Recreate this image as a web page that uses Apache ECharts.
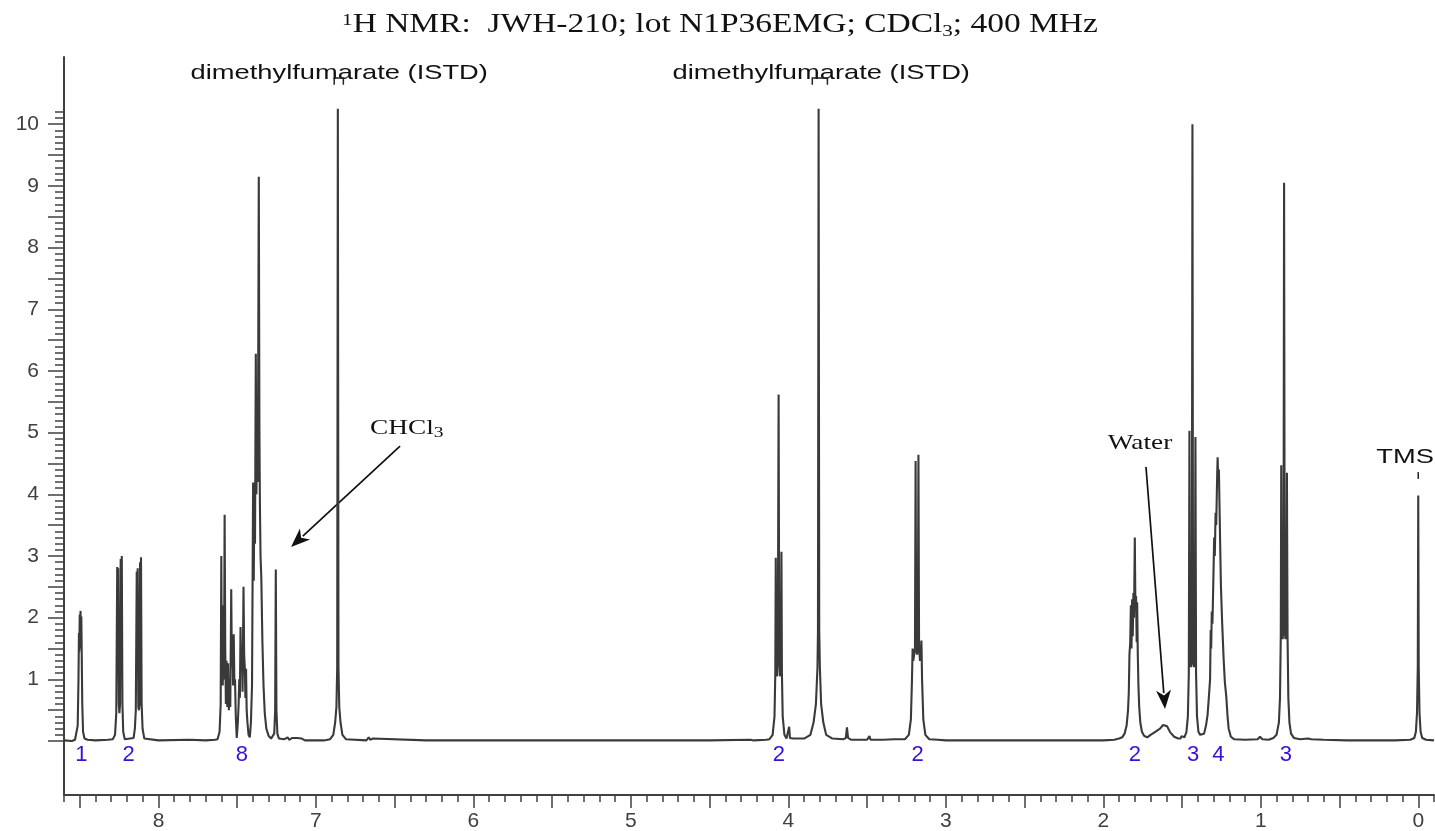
<!DOCTYPE html>
<html>
<head>
<meta charset="utf-8">
<title>1H NMR JWH-210</title>
<script src="https://cdn.jsdelivr.net/npm/echarts@6/dist/echarts.min.js"></script>
<style>
  html, body { margin: 0; padding: 0; background: #fff; }
  #chart { width: 1435px; height: 831px; }
</style>
</head>
<body>
<div id="chart"></div>
<script>
// spectrum: [ppm, intensity], high ppm first
const baseStart = [[8.60, 0.01], [8.55, 0.0], [8.53, 0.02]]
const peak849 = [[8.522, 0.05], [8.513, 0.25], [8.508, 1.0], [8.505, 1.75], [8.503, 1.45], [8.500, 2.05], [8.498, 1.5], [8.495, 2.11], [8.493, 1.5], [8.490, 2.02], [8.487, 1.3], [8.484, 0.6], [8.479, 0.15], [8.470, 0.04], [8.45, 0.02], [8.40, 0.01], [8.32, 0.02], [8.29, 0.03]]
const peak824 = [[8.276, 0.1], [8.268, 0.45], [8.262, 2.82], [8.259, 1.6], [8.256, 2.8], [8.252, 0.6], [8.248, 0.45], [8.244, 0.6], [8.240, 2.95], [8.237, 1.8], [8.233, 3.0], [8.229, 0.6], [8.224, 0.15], [8.214, 0.03]]
const peak812 = [[8.158, 0.05], [8.150, 0.2], [8.144, 0.5], [8.138, 2.75], [8.135, 1.8], [8.132, 2.8], [8.128, 0.55], [8.124, 0.5], [8.120, 0.6], [8.117, 2.9], [8.114, 2.0], [8.111, 2.98], [8.107, 0.6], [8.101, 0.2], [8.090, 0.04], [8.0, 0.01], [7.8, 0.02], [7.7, 0.01], [7.64, 0.02]]
const aromatic = [[7.625, 0.03], [7.612, 0.15], [7.605, 0.6], [7.601, 3.0], [7.598, 1.2], [7.595, 2.2], [7.592, 0.9], [7.588, 1.4], [7.584, 1.0], [7.580, 3.67], [7.576, 1.5], [7.572, 0.6], [7.568, 1.3], [7.563, 0.55], [7.558, 1.26], [7.553, 0.5], [7.548, 1.0], [7.544, 0.55], [7.538, 2.46], [7.534, 1.2], [7.530, 1.6], [7.526, 0.9], [7.522, 1.73], [7.518, 0.92], [7.514, 1.0], [7.509, 0.4], [7.503, 0.05], [7.496, 0.3], [7.491, 0.6], [7.487, 1.0], [7.483, 0.7], [7.479, 1.85], [7.475, 1.2], [7.470, 1.5], [7.466, 0.8], [7.460, 2.5], [7.456, 1.4], [7.452, 1.2], [7.448, 0.7], [7.444, 1.17], [7.440, 0.5], [7.435, 0.3], [7.428, 0.1], [7.420, 0.06], [7.413, 0.3], [7.406, 0.9], [7.399, 4.19], [7.395, 2.6], [7.391, 4.0], [7.387, 3.2], [7.382, 6.28], [7.378, 4.0], [7.373, 5.5], [7.369, 4.2], [7.363, 9.15], [7.359, 5.0], [7.356, 3.88], [7.352, 3.0], [7.347, 2.65], [7.340, 1.6], [7.333, 0.9], [7.325, 0.45], [7.315, 0.2], [7.300, 0.08], [7.285, 0.04]]
const chcl3 = [[7.275, 0.04], [7.265, 0.12], [7.259, 0.5], [7.255, 2.78], [7.251, 0.5], [7.245, 0.12], [7.235, 0.04], [7.20, 0.03], [7.18, 0.06], [7.17, 0.02], [7.15, 0.05], [7.14, 0.02], [7.12, 0.05], [7.11, 0.02], [7.09, 0.04], [7.07, 0.01], [7.00, 0.01], [6.95, 0.01]]
const dmf686 = [[6.91, 0.03], [6.89, 0.1], [6.878, 0.3], [6.870, 0.55], [6.865, 1.2], [6.861, 10.25], [6.857, 1.2], [6.852, 0.55], [6.844, 0.3], [6.832, 0.1], [6.81, 0.03], [6.68, 0.01], [6.665, 0.06], [6.655, 0.02], [6.64, 0.04], [6.63, 0.01], [6.3, 0.01], [5.8, 0.01], [5.5, 0.01], [5.0, 0.01], [4.5, 0.01], [4.24, 0.02], [4.23, 0.05], [4.22, 0.01], [4.14, 0.02]]
const peak406 = [[4.12, 0.03], [4.10, 0.1], [4.088, 0.4], [4.083, 1.1], [4.080, 2.97], [4.076, 1.1], [4.071, 1.05], [4.067, 1.4], [4.062, 5.62], [4.058, 1.4], [4.053, 1.05], [4.048, 1.1], [4.044, 3.07], [4.041, 1.1], [4.036, 0.4], [4.025, 0.1], [4.012, 0.04], [4.000, 0.05], [3.995, 0.23], [3.99, 0.05], [3.97, 0.04]]
const dmf381 = [[3.90, 0.04], [3.86, 0.1], [3.84, 0.3], [3.825, 0.6], [3.815, 1.2], [3.812, 1.8], [3.808, 10.25], [3.804, 1.8], [3.800, 1.2], [3.792, 0.6], [3.778, 0.3], [3.76, 0.1], [3.72, 0.04], [3.65, 0.03], [3.635, 0.05], [3.628, 0.22], [3.621, 0.05], [3.60, 0.02], [3.50, 0.02], [3.485, 0.08], [3.478, 0.02], [3.40, 0.02], [3.33, 0.03]]
const peak318 = [[3.26, 0.03], [3.235, 0.1], [3.222, 0.35], [3.215, 1.0], [3.211, 1.5], [3.207, 1.3], [3.201, 1.4], [3.196, 1.5], [3.192, 4.54], [3.188, 1.5], [3.183, 1.4], [3.178, 1.5], [3.174, 4.64], [3.170, 1.5], [3.164, 1.3], [3.159, 1.4], [3.155, 1.63], [3.151, 1.0], [3.143, 0.35], [3.130, 0.1], [3.105, 0.03], [3.05, 0.02], [3.0, 0.01], [2.8, 0.01], [2.5, 0.01], [2.2, 0.01], [2.0, 0.01], [1.93, 0.02], [1.90, 0.04]]
const peak180 = [[1.88, 0.06], [1.865, 0.12], [1.852, 0.25], [1.843, 0.5], [1.838, 0.8], [1.834, 1.4], [1.829, 1.6], [1.825, 2.2], [1.821, 1.5], [1.817, 2.3], [1.813, 1.7], [1.809, 2.4], [1.805, 2.0], [1.800, 3.3], [1.796, 2.1], [1.792, 2.35], [1.788, 1.6], [1.785, 2.25], [1.781, 1.4], [1.777, 0.9], [1.772, 0.55], [1.765, 0.3], [1.755, 0.15], [1.74, 0.08]]
const water = [[1.72, 0.06], [1.70, 0.1], [1.67, 0.15], [1.64, 0.2], [1.62, 0.26], [1.608, 0.28], [1.595, 0.24], [1.575, 0.14], [1.55, 0.07], [1.525, 0.04], [1.51, 0.04], [1.503, 0.08], [1.497, 0.05]]
const peak143 = [[1.485, 0.06], [1.472, 0.15], [1.463, 0.4], [1.457, 1.1], [1.453, 5.03], [1.449, 1.3], [1.444, 1.2], [1.438, 1.3], [1.434, 10.0], [1.430, 1.3], [1.425, 1.2], [1.419, 1.3], [1.415, 4.93], [1.411, 1.1], [1.405, 0.4], [1.396, 0.15], [1.385, 0.1]]
const peak128 = [[1.375, 0.08], [1.36, 0.12], [1.348, 0.25], [1.338, 0.42], [1.330, 0.7], [1.322, 1.0], [1.318, 1.8], [1.315, 1.5], [1.311, 2.1], [1.307, 1.9], [1.302, 2.5], [1.296, 3.3], [1.292, 3.0], [1.287, 3.7], [1.283, 3.5], [1.277, 4.3], [1.274, 4.6], [1.270, 4.2], [1.266, 4.4], [1.262, 3.8], [1.258, 3.2], [1.253, 2.5], [1.245, 1.9], [1.236, 1.34], [1.228, 0.95], [1.219, 0.72], [1.211, 0.4], [1.204, 0.2], [1.19, 0.07], [1.17, 0.03], [1.10, 0.02], [1.02, 0.03], [1.005, 0.07], [0.99, 0.03], [0.95, 0.02], [0.92, 0.05], [0.90, 0.1]]
const peak085 = [[0.895, 0.12], [0.885, 0.3], [0.878, 0.7], [0.873, 1.7], [0.870, 4.47], [0.866, 1.8], [0.861, 1.65], [0.856, 1.8], [0.852, 9.05], [0.848, 1.8], [0.843, 1.65], [0.838, 1.8], [0.834, 4.35], [0.830, 1.7], [0.825, 0.7], [0.818, 0.3], [0.808, 0.12], [0.79, 0.05], [0.75, 0.03], [0.70, 0.04], [0.69, 0.07], [0.68, 0.03], [0.6, 0.02], [0.45, 0.01], [0.3, 0.01], [0.15, 0.01], [0.05, 0.02], [0.025, 0.05]]
const tms = [[0.015, 0.15], [0.008, 0.45], [0.003, 1.2], [0.0, 3.98], [-0.003, 1.2], [-0.008, 0.45], [-0.015, 0.15], [-0.025, 0.05], [-0.05, 0.02], [-0.1, 0.01]]

const spectrum = [].concat(baseStart, peak849, peak824, peak812, aromatic, chcl3, dmf686,
    peak406, dmf381, peak318, peak180, water, peak143, peak128, peak085, tms)

// integrals printed under the multiplets: [ppm, protons]
const integrals = [[8.49, 1], [8.19, 2], [7.47, 8], [4.06, 2], [3.18, 2], [1.80, 2], [1.43, 3], [1.27, 4], [0.84, 3]]

// tick labels
const xTickLabels = [0, 1, 2, 3, 4, 5, 6, 7, 8]
const yTickLabels = [1, 2, 3, 4, 5, 6, 7, 8, 9, 10]

// layout
const W = 1435, H = 831
const plotLeft = 64, plotRight = 1434, plotTop = 57, plotBottom = 795
const ppmMin = -0.1, ppmMax = 8.6, yMin = -0.875, yMax = 11.09
const axisColor = '#404040'
const sans = '"Liberation Sans", Arial, sans-serif'
const serif = '"Liberation Serif", "Times New Roman", serif'

function px(ppm) {
    return plotLeft + (ppmMax - ppm) / (ppmMax - ppmMin) * (plotRight - plotLeft)
}
function py(v) {
    return plotBottom - (v - yMin) / (yMax - yMin) * (plotBottom - plotTop)
}

const chart = echarts.init(document.getElementById('chart'), null, { renderer: 'canvas' })

const tickStyle = { color: axisColor, width: 1.5 }
const hidden = { show: false }

chart.setOption({
    animation: false,
    backgroundColor: '#fff',
    grid: [
        // data
        { left: plotLeft, right: W - plotRight, top: plotTop, bottom: H - plotBottom, outerBoundsMode: 'none' },
        // long x ticks + labels
        { left: px(8.5), right: W - px(0), top: plotTop, bottom: H - plotBottom, outerBoundsMode: 'none' },
        // short y ticks
        { left: plotLeft, right: W - plotRight, top: py(10.2), bottom: H - py(0), outerBoundsMode: 'none' },
        // long y ticks + labels
        { left: plotLeft, right: W - plotRight, top: py(10), bottom: H - py(0), outerBoundsMode: 'none' }
    ],
    xAxis: [
        {
            gridIndex: 0, type: 'value', min: ppmMin, max: ppmMax, inverse: true, interval: 0.1,
            axisLine: { show: true, onZero: false, lineStyle: { color: axisColor, width: 2 } },
            axisTick: { show: true, length: 7, lineStyle: tickStyle },
            axisLabel: hidden, splitLine: hidden
        },
        {
            gridIndex: 1, type: 'value', min: 0, max: 8.5, inverse: true, interval: 0.5,
            axisLine: { show: false, onZero: false },
            axisTick: { show: true, length: 13, lineStyle: tickStyle },
            axisLabel: {
                show: true, margin: 16, fontSize: 21, fontFamily: sans, color: axisColor,
                formatter: v => xTickLabels.includes(v) ? String(v) : ''
            },
            splitLine: hidden
        },
        { gridIndex: 2, type: 'value', show: false },
        { gridIndex: 3, type: 'value', show: false }
    ],
    yAxis: [
        {
            gridIndex: 0, type: 'value', min: yMin, max: yMax,
            axisLine: { show: true, onZero: false, lineStyle: { color: axisColor, width: 2 } },
            axisTick: hidden, axisLabel: hidden, splitLine: hidden
        },
        { gridIndex: 1, type: 'value', min: 0, max: 1, show: false },
        {
            gridIndex: 2, type: 'value', min: 0, max: 10.2, interval: 0.1,
            axisLine: { show: false, onZero: false },
            axisTick: { show: true, length: 9, lineStyle: tickStyle },
            axisLabel: hidden, splitLine: hidden
        },
        {
            gridIndex: 3, type: 'value', min: 0, max: 10, interval: 0.5,
            axisLine: { show: false, onZero: false },
            axisTick: { show: true, length: 16, lineStyle: tickStyle },
            axisLabel: {
                show: true, margin: 25, fontSize: 21, fontFamily: sans, color: axisColor,
                formatter: v => yTickLabels.includes(v) ? String(v) : ''
            },
            splitLine: hidden
        }
    ],
    series: [
        {
            name: 'spectrum', type: 'line', xAxisIndex: 0, yAxisIndex: 0,
            data: spectrum, symbol: 'none', showSymbol: false, silent: true,
            lineStyle: { color: '#3a3a3a', width: 2.1 }
        },
        {
            name: 'integrals', type: 'scatter', xAxisIndex: 0, yAxisIndex: 0,
            data: integrals.map(d => [d[0], -0.23, d[1]]),
            symbolSize: 1, itemStyle: { color: 'rgba(0,0,0,0)' }, silent: true,
            label: {
                show: true, position: 'inside', formatter: p => String(p.value[2]),
                fontSize: 22, fontFamily: sans, color: '#3a0fd8', opacity: 1
            }
        }
    ]
})

// annotations, anchored on the data axes
const toPx = (p, v) => chart.convertToPixel({ gridIndex: 0 }, [p, v])

function label(text, at, opts) {
    return {
        type: 'text', x: at[0], y: at[1], scaleX: opts.scaleX || 1.3, silent: true,
        style: Object.assign({
            text: text, fill: '#111', fontSize: 21, fontFamily: sans,
            align: 'center', verticalAlign: 'middle',
            textAlign: 'center', textVerticalAlign: 'middle'
        }, opts.style || {})
    }
}

function arrow(from, to) {
    const dx = to[0] - from[0], dy = to[1] - from[1]
    const len = Math.sqrt(dx * dx + dy * dy)
    const ux = dx / len, uy = dy / len
    const headLen = 19, headW = 7.5
    const bx = to[0] - ux * headLen, by = to[1] - uy * headLen
    return [
        { type: 'line', silent: true, shape: { x1: from[0], y1: from[1], x2: bx + ux * 3, y2: by + uy * 3 },
          style: { stroke: '#111', lineWidth: 1.7 } },
        { type: 'polygon', silent: true,
          shape: { points: [to, [bx - uy * headW, by + ux * headW], [to[0] - ux * headLen * 0.72, to[1] - uy * headLen * 0.72], [bx + uy * headW, by - ux * headW]] },
          style: { fill: '#111' } }
    ]
}

function bracket(p1, p2, vTop, vBottom) {
    const a = toPx(p1, vBottom), b = toPx(p1, vTop), c = toPx(p2, vTop), d = toPx(p2, vBottom)
    return { type: 'polyline', silent: true, shape: { points: [a, b, c, d] },
             style: { stroke: '#222', lineWidth: 1.5, fill: null } }
}

const serifRich = {
    sub: { fontSize: 15, fontFamily: serif, fill: '#111', verticalAlign: 'bottom', lineHeight: 15 },
    sup: { fontSize: 16, fontFamily: serif, fill: '#111', verticalAlign: 'top', lineHeight: 16 }
}

const tmsTop = toPx(0, 4.36), tmsBottom = toPx(0, 4.25)

const elements = [
    // title
    label('{sup|1}H NMR:  JWH-210; lot N1P36EMG; CDCl{sub|3}; 400 MHz', [720, 25], {
        scaleX: 1.24,
        style: { fontSize: 27, fontFamily: serif, lineHeight: 30, rich: {
            sup: { fontSize: 17, fontFamily: serif, fill: '#111', verticalAlign: 'top', lineHeight: 17, padding: [2, 0, 0, 0] },
            sub: { fontSize: 17, fontFamily: serif, fill: '#111', verticalAlign: 'bottom', lineHeight: 17 }
        } }
    }),
    label('dimethylfumarate (ISTD)', toPx(6.852, 10.83), {}),
    label('dimethylfumarate (ISTD)', toPx(3.791, 10.83), {}),
    bracket(6.884, 6.826, 10.75, 10.64),
    bracket(3.848, 3.752, 10.75, 10.64),
    label('CHCl{sub|3}', toPx(6.656, 5.075), { style: { fontFamily: serif, align: 'left', textAlign: 'left', lineHeight: 26, rich: serifRich } }),
    label('Water', toPx(1.767, 4.832), { style: { fontFamily: serif } }),
    label('TMS', toPx(0.084, 4.6), {}),
    { type: 'line', silent: true, shape: { x1: tmsTop[0], y1: tmsTop[1], x2: tmsBottom[0], y2: tmsBottom[1] },
      style: { stroke: '#222', lineWidth: 1.5 } }
].concat(
    arrow(toPx(6.466, 4.783), toPx(7.158, 3.146)),
    arrow(toPx(1.729, 4.443), toPx(1.608, 0.519))
)

chart.setOption({ graphic: { elements: elements } })
</script>
</body>
</html>
